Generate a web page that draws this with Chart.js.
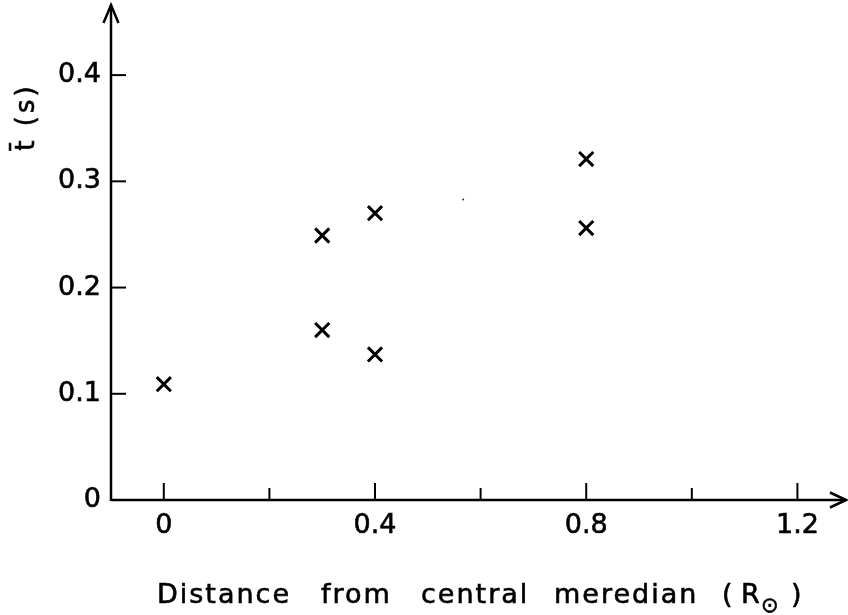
<!DOCTYPE html>
<html>
<head>
<meta charset="utf-8">
<script src="https://cdn.jsdelivr.net/npm/chart.js@4"></script>
<style>
html,body{margin:0;padding:0;background:#fff;}
#wrap{width:848px;height:615px;}
</style>
</head>
<body>
<div id="wrap"><canvas id="c" width="848" height="615"></canvas></div>
<script>
// Data
const distance = [0, 0.3, 0.3, 0.4, 0.4, 0.8, 0.8];
const meanTime = [0.109, 0.249, 0.160, 0.270, 0.137, 0.321, 0.256];
const speckX = [0.567];
const speckY = [0.283];
const xTicks = [0, 0.2, 0.4, 0.6, 0.8, 1.0, 1.2];
const xTickLabels = ['0', '', '0.4', '', '0.8', '', '1.2'];
const yTicks = [0, 0.1, 0.2, 0.3, 0.4];
const yTickLabels = ['0', '0.1', '0.2', '0.3', '0.4'];
const xTitleWords = ['Distance', 'from', 'central', 'meredian', '(', 'R'];
const xTitleWordX = [157, 321, 421, 554, 722, 741];
const xTitleSub = '\u2299';
const xTitleEnd = ')';
const yTitle = 't\u0304 (s)';

const FONT = '"DejaVu Sans", sans-serif';

const points = distance.map((d, i) => ({x: d, y: meanTime[i]}));
const speck = speckX.map((d, i) => ({x: d, y: speckY[i]}));

function thickText(ctx, txt, x, y) {
  ctx.fillText(txt, x, y);
  ctx.strokeText(txt, x, y);
}

const axesPlugin = {
  id: 'axesPlugin',
  afterDraw(chart) {
    const ctx = chart.ctx;
    const xs = chart.scales.x, ys = chart.scales.y;
    const left = xs.getPixelForValue(xs.min);
    const right = xs.getPixelForValue(xs.max);
    const bottom = ys.getPixelForValue(0);
    const top = ys.getPixelForValue(ys.max);
    ctx.save();
    ctx.strokeStyle = '#000';
    ctx.lineWidth = 2.5;
    ctx.lineCap = 'butt';
    ctx.beginPath();
    ctx.moveTo(left, bottom);
    ctx.lineTo(right, bottom);
    ctx.stroke();
    ctx.beginPath();
    ctx.moveTo(left, bottom + 1);
    ctx.lineTo(left, top);
    ctx.stroke();
    // arrows
    ctx.beginPath();
    ctx.moveTo(right - 16, bottom - 7.5);
    ctx.lineTo(right, bottom);
    ctx.lineTo(right - 16, bottom + 7.5);
    ctx.stroke();
    ctx.beginPath();
    ctx.moveTo(left - 7.5, top + 18);
    ctx.lineTo(left, top);
    ctx.lineTo(left + 7.5, top + 18);
    ctx.stroke();
    // x tick marks (upward)
    ctx.lineWidth = 2;
    xTicks.forEach((v, i) => {
      const px = xs.getPixelForValue(v);
      const len = xTickLabels[i] ? 17 : 12;
      ctx.beginPath();
      ctx.moveTo(px, bottom);
      ctx.lineTo(px, bottom - len);
      ctx.stroke();
    });
    // y tick marks (rightward)
    yTicks.forEach((v) => {
      if (v === 0) return;
      const py = ys.getPixelForValue(v);
      ctx.beginPath();
      ctx.moveTo(left, py);
      ctx.lineTo(left + 15, py);
      ctx.stroke();
    });
    // x title
    ctx.fillStyle = '#000';
    ctx.strokeStyle = '#000';
    ctx.lineWidth = 0.6;
    ctx.letterSpacing = '2px';
    ctx.font = '27px ' + FONT;
    ctx.textBaseline = 'alphabetic';
    ctx.textAlign = 'left';
    const ty = 603;
    xTitleWords.forEach((w, i) => thickText(ctx, w, xTitleWordX[i], ty));
    ctx.letterSpacing = '0px';
    ctx.font = '21px ' + FONT;
    thickText(ctx, xTitleSub, 761, ty + 9);
    ctx.font = '27px ' + FONT;
    thickText(ctx, xTitleEnd, 791, ty);
    // y title
    ctx.save();
    ctx.translate(34, 117);
    ctx.rotate(-Math.PI / 2);
    ctx.textAlign = 'center';
    ctx.letterSpacing = '3px';
    ctx.font = '26px ' + FONT;
    thickText(ctx, yTitle, 0, 0);
    ctx.restore();
    ctx.restore();
  }
};

new Chart(document.getElementById('c'), {
  type: 'scatter',
  data: {
    datasets: [
      {
        data: points,
        pointStyle: 'crossRot',
        pointRadius: 10,
        pointBorderWidth: 3,
        borderColor: '#000',
        backgroundColor: '#000'
      },
      {
        data: speck,
        pointStyle: 'circle',
        pointRadius: 1,
        pointBorderWidth: 0,
        borderColor: '#000',
        backgroundColor: '#333'
      }
    ]
  },
  options: {
    responsive: false,
    animation: false,
    devicePixelRatio: 1,
    layout: {autoPadding: false, padding: {top: 5, right: 2, left: 0, bottom: 0}},
    plugins: {legend: {display: false}, tooltip: {enabled: false}, title: {display: false}},
    scales: {
      x: {
        type: 'linear',
        min: -0.1,
        max: 1.292,
        grid: {display: false, drawTicks: false},
        border: {display: false},
        afterBuildTicks: (s) => { s.ticks = xTicks.map(v => ({value: v})); },
        afterFit: (s) => { s.height = 115; s.paddingLeft = 0; s.paddingRight = 0; },
        ticks: {
          padding: 10,
          color: '#000',
          textStrokeColor: '#000',
          textStrokeWidth: 0.6,
          font: {family: FONT, size: 27},
          maxRotation: 0,
          autoSkip: false,
          callback: (v, i) => xTickLabels[i]
        }
      },
      y: {
        type: 'linear',
        min: 0,
        max: 0.466,
        grid: {display: false, drawTicks: false},
        border: {display: false},
        afterBuildTicks: (s) => { s.ticks = yTicks.map(v => ({value: v})); },
        afterFit: (s) => { s.width = 111; s.paddingTop = 0; s.paddingBottom = 0; },
        ticks: {
          padding: 10,
          color: '#000',
          textStrokeColor: '#000',
          textStrokeWidth: 0.6,
          font: {family: FONT, size: 27},
          autoSkip: false,
          callback: (v, i) => yTickLabels[i]
        }
      }
    }
  },
  plugins: [axesPlugin]
});
</script>
</body>
</html>
